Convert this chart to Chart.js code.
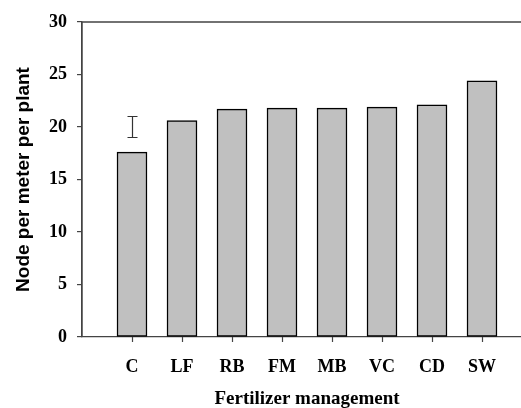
<!DOCTYPE html>
<html>
<head>
<meta charset="utf-8">
<script src="https://cdn.jsdelivr.net/npm/chart.js@4/dist/chart.umd.min.js"></script>
<style>
html,body{margin:0;padding:0;overflow:hidden;background:#fff;width:521px;height:408px;}
#wrap{position:relative;width:540px;height:408px;}
</style>
</head>
<body>
<div id="wrap"><canvas id="c"></canvas></div>
<script>
const categories = ['C', 'LF', 'RB', 'FM', 'MB', 'VC', 'CD', 'SW'];
const values = [17.6, 20.6, 21.7, 21.8, 21.8, 21.9, 22.1, 24.4];
const errLow = [19.0, null, null, null, null, null, null, null];
const errHigh = [21.0, null, null, null, null, null, null, null];
const yTicks = [0, 5, 10, 15, 20, 25, 30];

const labels = [''].concat(categories, ['']);
const data = [null].concat(values, [null]);

const axisColor = '#444';

const framePlugin = {
  id: 'frame',
  afterDraw(chart) {
    const {ctx, chartArea: a} = chart;
    const xs = chart.scales.x, ys = chart.scales.y;
    ctx.save();
    // clear anything drawn past the last category slot edge
    ctx.fillStyle = '#fff';
    ctx.fillRect(xs.getPixelForValue(8) + 20, a.top + 2, 60, a.bottom - a.top - 3);
    ctx.strokeStyle = axisColor;
    ctx.lineWidth = 1.3;
    ctx.beginPath();
    ctx.moveTo(a.left, a.bottom);
    ctx.lineTo(a.left, a.top);
    ctx.lineTo(a.right, a.top);
    ctx.stroke();
    // x tick marks at categories
    ctx.lineWidth = 1.2;
    ctx.beginPath();
    categories.forEach((c, i) => {
      const x = Math.round(xs.getPixelForValue(i + 1)) + 0.5;
      ctx.moveTo(x, a.bottom);
      ctx.lineTo(x, a.bottom + 5);
    });
    ctx.stroke();
    // error bars
    ctx.strokeStyle = '#333';
    categories.forEach((c, i) => {
      if (errLow[i] == null || errHigh[i] == null) return;
      const x = Math.round(xs.getPixelForValue(i + 1)) + 0.5;
      const y1 = ys.getPixelForValue(errLow[i]);
      const y2 = ys.getPixelForValue(errHigh[i]);
      ctx.beginPath();
      ctx.moveTo(x, y1); ctx.lineTo(x, y2);
      ctx.moveTo(x - 5, y1); ctx.lineTo(x + 5, y1);
      ctx.moveTo(x - 5, y2); ctx.lineTo(x + 5, y2);
      ctx.stroke();
    });
    ctx.restore();
  }
};

new Chart(document.getElementById('c'), {
  type: 'bar',
  data: {
    labels: labels,
    datasets: [{
      data: data,
      backgroundColor: '#c0c0c0',
      borderColor: '#000',
      borderWidth: 1.5,
      borderSkipped: false,
      barThickness: 30
    }]
  },
  options: {
    responsive: true,
    maintainAspectRatio: false,
    animation: false,
    events: [],
    layout: {padding: {top: 22, right: 8, bottom: 0, left: 0}},
    plugins: {legend: {display: false}, tooltip: {enabled: false}},
    scales: {
      x: {
        type: 'category',
        offset: false,
        afterFit(s) { s.height = 71; s.paddingLeft = 0; s.paddingRight = 0; },
        grid: {display: false, offset: false},
        border: {display: true, color: axisColor, width: 1.3},
        ticks: {
          color: '#000',
          padding: 12,
          maxRotation: 0,
          autoSkip: false,
          font: {family: '"Liberation Serif", "Times New Roman", serif', size: 18, weight: 'bold'}
        },
        title: {
          display: true,
          text: 'Fertilizer management',
          color: '#000',
          padding: {top: 0, bottom: 0},
          font: {family: '"Liberation Serif", "Times New Roman", serif', size: 19, weight: 'bold', lineHeight: 0.9}
        }
      },
      y: {
        min: 0,
        max: 30,
        afterFit(s) { s.width = 82; },
        afterBuildTicks(s) { s.ticks = yTicks.map(v => ({value: v})); },
        grid: {drawOnChartArea: false, drawTicks: true, tickLength: 5, color: axisColor, lineWidth: 1.2},
        border: {display: true, color: axisColor, width: 1.3},
        ticks: {
          color: '#000',
          padding: 10,
          font: {family: '"Liberation Serif", "Times New Roman", serif', size: 18, weight: 'bold'}
        },
        title: {
          display: true,
          text: 'Node per meter per plant',
          color: '#000',
          padding: {top: 12, bottom: 0},
          font: {family: '"Liberation Sans", Arial, sans-serif', size: 19, weight: 'bold', lineHeight: 1.2}
        }
      }
    }
  },
  plugins: [framePlugin]
});
</script>
</body>
</html>
